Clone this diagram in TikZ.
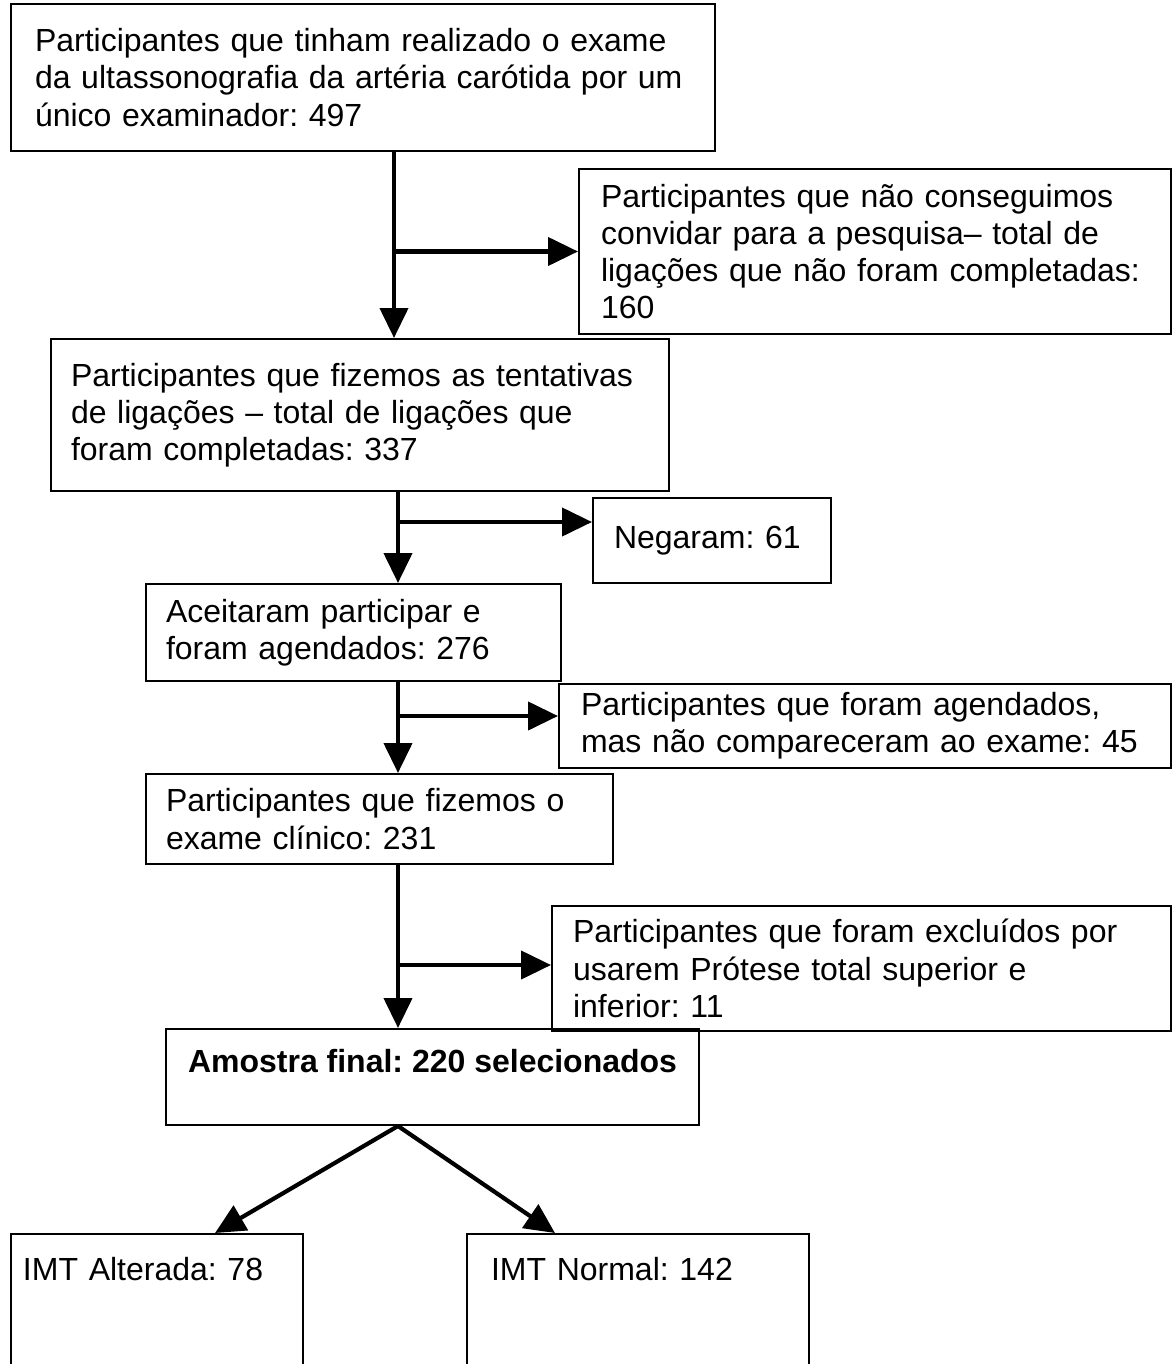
\documentclass[tikz,border=0pt]{standalone}
\usepackage{fontspec}
\setmainfont{Liberation Sans}
\usetikzlibrary{arrows.meta}
\frenchspacing
\hyphenpenalty=10000

\begin{document}
\begin{tikzpicture}[x=0.5pt,y=-0.5pt,
    caixa/.style={draw, line width=1pt, anchor=north west, align=left,
        inner xsep=11pt, inner ysep=2pt,
        font=\fontsize{16pt}{18.6pt}\selectfont},
    seta/.style={line width=2.1pt, -{Triangle[length=15pt,width=14pt]}}]
  \clip (0,0) rectangle (1172,1364);
  % caixas do fluxo principal
  \node[caixa, minimum width=352pt, minimum height=73.5pt, inner xsep=12pt, text width=328pt] (n1) at (10,3)
    {Participantes que tinham realizado o exame\\da ultassonografia da artéria carótida por um\\único examinador: 497};
  \node[caixa, minimum width=296pt, minimum height=82.5pt, text width=274pt] (n2) at (578,168)
    {Participantes que não conseguimos\\convidar para a pesquisa– total de\\ligações que não foram completadas:\\160};
  \node[caixa, minimum width=309pt, minimum height=76pt, inner xsep=10pt, text width=289pt] (n3) at (50,338)
    {Participantes que fizemos as tentativas\\de ligações – total de ligações que\\foram completadas: 337};
  \node[caixa, minimum width=119pt, minimum height=42.5pt, inner xsep=10.5pt, text width=98pt] (nneg) at (592,497)
    {Negaram: 61};
  \node[caixa, minimum width=207.5pt, minimum height=48.5pt, inner xsep=10pt, text width=187.5pt] (n4) at (145,583)
    {Aceitaram participar e\\foram agendados: 276};
  \node[caixa, minimum width=306pt, minimum height=42pt, text width=284pt] (n5) at (558,683)
    {Participantes que foram agendados,\\mas não compareceram ao exame: 45};
  \node[caixa, minimum width=233.5pt, minimum height=45pt, inner xsep=10pt, text width=213.5pt] (n6) at (145,773)
    {Participantes que fizemos o\\exame clínico: 231};
  \node[caixa, minimum width=309.5pt, minimum height=62.5pt, inner xsep=10.5pt, text width=288.5pt] (n7) at (551,905)
    {Participantes que foram excluídos por\\usarem Prótese total superior e\\inferior: 11};
  \node[caixa, minimum width=266.5pt, inner ysep=0pt, text height=21.5pt, text depth=26.5pt] (n8) at (165,1028)
    {\bfseries Amostra final: 220 selecionados};
  % resultados
  \node[caixa, inner ysep=0pt, inner xsep=6pt, text height=23pt, text depth=62pt, text width=134pt] (n9) at (10,1233)
    {IMT Alterada: 78};
  \node[caixa, inner ysep=0pt, inner xsep=12pt, text height=23pt, text depth=62pt, text width=147pt] (n10) at (466,1233)
    {IMT Normal: 142};
  % setas
  \coordinate (e1) at (394,0);
  \coordinate (e2) at (398,0);
  \coordinate (r2) at (0,522);
  \coordinate (r3) at (0,716);
  \coordinate (r4) at (0,965);
  \coordinate (d9) at (215,0);
  \coordinate (d10) at (555,0);
  \draw[seta] (e1 |- n1.south) -- (e1 |- n3.north);
  \draw[seta] (e1 |- n2.west) -- (n2.west);
  \draw[seta] (e2 |- n3.south) -- (e2 |- n4.north);
  \draw[seta] (e2 |- r2) -- (nneg.west |- r2);
  \draw[seta] (e2 |- n4.south) -- (e2 |- n6.north);
  \draw[seta] (e2 |- r3) -- (n5.west |- r3);
  \draw[seta] (e2 |- n6.south) -- (e2 |- n8.north);
  \draw[seta] (e2 |- r4) -- (n7.west |- r4);
  \draw[seta] (e2 |- n8.south) -- (d9 |- n9.north);
  \draw[seta] (e2 |- n8.south) -- (d10 |- n10.north);
\end{tikzpicture}
\end{document}
